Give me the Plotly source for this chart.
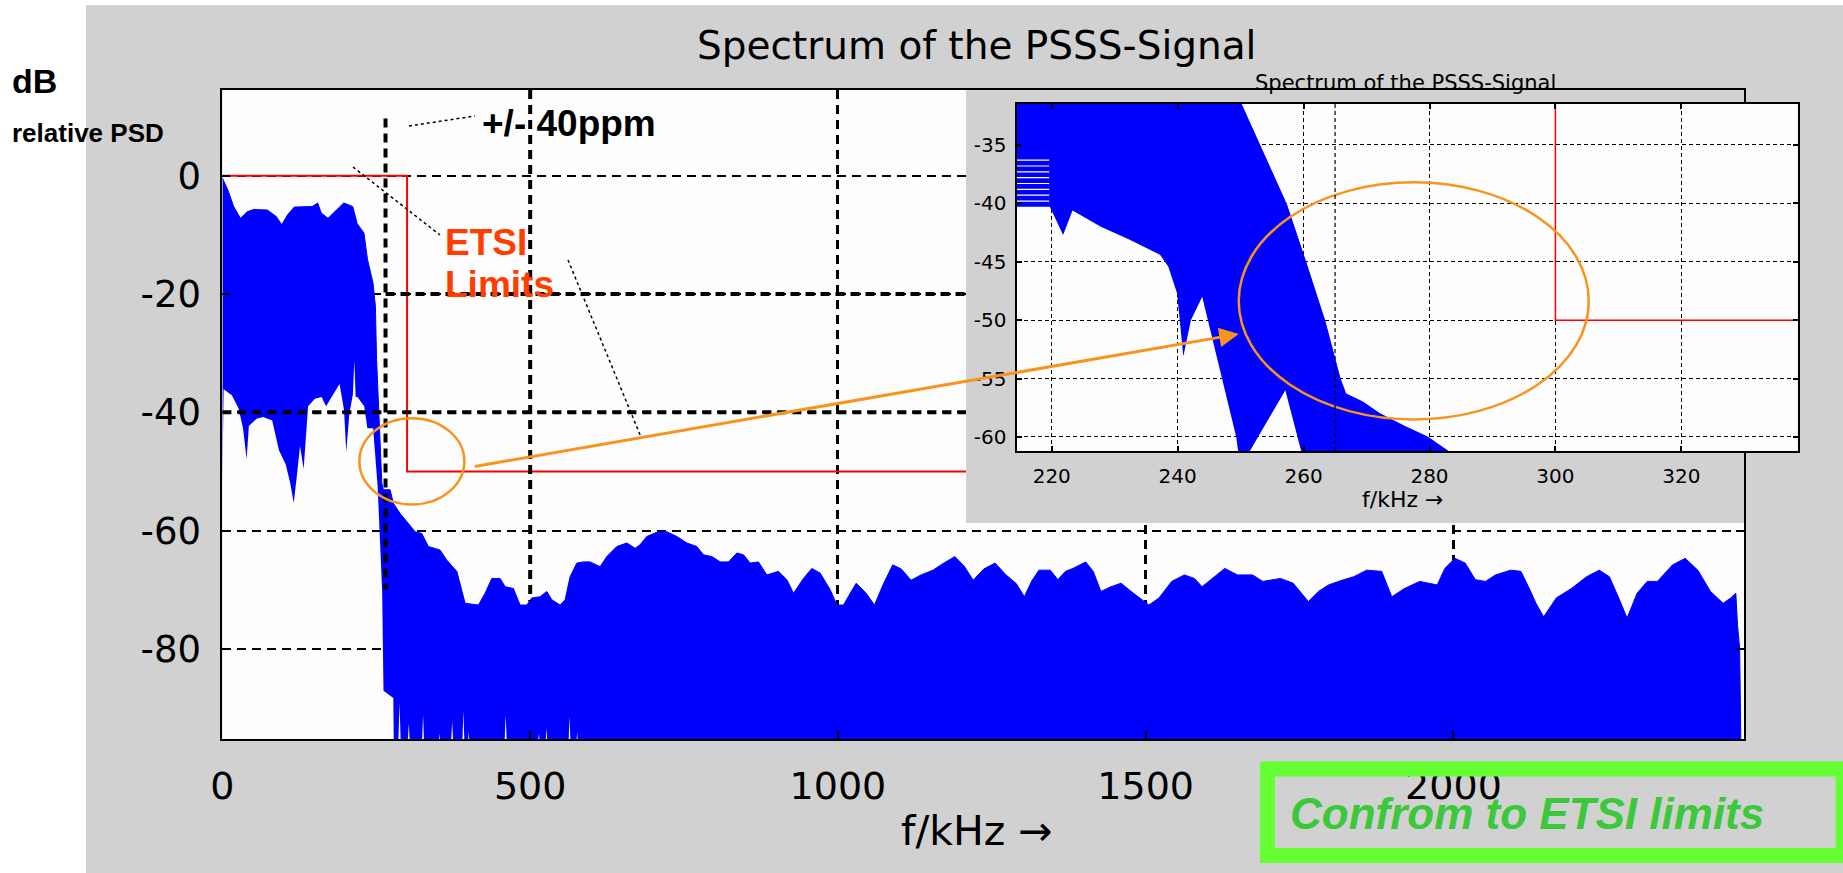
import plotly.graph_objects as go

W, H = 1843, 873
GRAY = "#D1D1D1"
BLUE = "#0000FF"
ORANGE = "#F7941E"

# ---------------- data ----------------
# upper envelope of the PSD band, main plot: (f / kHz, dB)
main_upper_points = [
    (0, -0.4), (8.8, -2.4), (18.3, -5.2), (29.2, -7.2), (40.2, -6.1), (51.1, -5.7), (73, -5.8),
    (87.6, -6.9), (96.4, -8.3), (105.9, -6.6), (116.8, -5.3), (146, -5.2), (154.8, -4.6),
    (160.6, -6.3), (171.6, -7.2), (182.5, -6.1), (197.1, -4.6), (211.7, -5.2), (219, -8.1),
    (230, -9.7), (235.8, -14.2), (244.6, -18.1), (248.5, -22), (250.5, -31), (253, -38),
    (256, -46), (259, -52), (261.5, -53.1), (272.4, -53.1), (277.8, -55.4), (288.6, -57.1),
    (302.2, -58.8), (313, -60.2), (323.9, -60.5), (334.7, -62.7), (353.6, -63.3), (364.5, -65.0),
    (380.8, -66.9), (388.9, -70.0), (394.3, -72.3), (415.9, -72.6), (426.8, -70.6), (437.6, -68.1),
    (451.1, -68.1), (459.3, -69.5), (472.8, -69.8), (483.6, -72.6), (494.5, -72.6), (502.6, -71.4),
    (516.1, -71.2), (527, -70.3), (535.1, -71.7), (548.7, -72.6), (556.8, -71.7), (564.9, -67.8),
    (575.8, -65.5), (586.5, -65.3), (597.4, -65.3), (613.6, -66.1), (624.5, -64.4), (640.8, -62.7),
    (657, -62.1), (670.5, -63.0), (678.6, -62.4), (689.5, -61.0), (705.8, -60.3), (722, -60.2),
    (738.3, -61.0), (754.5, -62.1), (770.8, -62.7), (781.6, -64.1), (795.2, -64.4), (808.7, -65.3),
    (822.2, -65.3), (835.8, -63.8), (846.6, -64.1), (857.4, -65.5), (870.9, -65.3), (884.5, -67.5),
    (903.4, -66.9), (917, -68.3), (927.8, -70.6), (944, -68.1), (957.6, -66.4), (971.2, -67.2),
    (987.4, -70.0), (998.3, -72.6), (1009, -72.6), (1020, -70.6), (1029.7, -68.9), (1045, -70.5),
    (1059.4, -72.6), (1074, -69), (1089.1, -65.8), (1103, -66.5), (1118.8, -68.4), (1135, -67.5),
    (1154.4, -66.7), (1172, -65.5), (1190, -64.4), (1205, -66), (1219.7, -68.4), (1237, -66.5),
    (1255.3, -65.5), (1273.1, -67.5), (1290, -69), (1302.8, -71.2), (1315, -68.5), (1326.6, -66.7),
    (1345, -66.7), (1357.3, -68.3), (1369.6, -66.9), (1382, -66.4), (1402.5, -65.3), (1414.8, -66.9),
    (1427.2, -70.3), (1443.6, -69.5), (1460, -68.9), (1476.4, -70.3), (1492.9, -71.7), (1505.2, -72.6),
    (1521.6, -71.4), (1542.2, -68.6), (1562.7, -67.5), (1579.2, -68.1), (1591.5, -69.5), (1608, -68.1),
    (1628.5, -66.4), (1649.1, -67.5), (1673.7, -67.5), (1690.2, -68.6), (1718.9, -68.1), (1739.5, -68.9),
    (1764.2, -72.0), (1780.6, -70.3), (1797, -69.2), (1821.8, -68.3), (1838.2, -67.8), (1858.8, -66.7),
    (1883.4, -66.9), (1899.8, -71.2), (1920.4, -69.8), (1945.1, -68.6), (1973.7, -69.2), (1986, -66.4),
    (2002.5, -64.7), (2019, -65.5), (2035.5, -68.3), (2051.9, -68.6), (2068.4, -67.5), (2093, -66.7),
    (2109.5, -66.9), (2121.8, -69.5), (2134.1, -72.3), (2146.5, -74.6), (2167, -71.4), (2191.6, -69.8),
    (2216.3, -67.8), (2236.8, -66.7), (2253.3, -67.8), (2269.7, -71.7), (2282, -74.8), (2298.4, -70.6),
    (2314.8, -68.6), (2331.3, -68.6), (2356, -65.8), (2376.5, -64.7), (2397, -66.7), (2417.6, -70.3),
    (2438.1, -72.3), (2450.5, -71.4), (2458.7, -70.6), (2461.5, -76), (2465, -80), (2467, -97),
]

# lower envelope of the PSD band, main plot
main_lower_points = [
    (0, -52), (2, -36.1), (15.3, -37.1), (26.2, -39.3), (33.5, -42.7), (39.4, -47.9),
    (43, -42.3), (55.4, -41.1), (66.3, -40.8), (80.9, -41.4), (91.9, -46.4),
    (102.8, -48.8), (110.1, -51.9), (115.9, -55.3), (121, -50.7), (126.1, -45.7),
    (132, -49.6), (139.2, -39.0), (150.2, -37.7), (161.1, -37.4), (168.4, -39.0),
    (179.3, -37.2), (190.3, -35.2), (197.6, -39.6), (201.2, -46.7), (206.3, -40.2),
    (212, -37), (214.3, -31.2), (216.5, -37.4), (219.4, -37.4), (230.4, -39.0),
    (235.5, -42.7), (244.9, -42.7), (252.2, -52.5), (255.9, -60.6), (259.5, -70.1),
    (261.7, -87.1), (277.7, -88.3), (278.5, -97), (285.5, -97), (287.8, -89.1),
    (290, -97), (300.5, -97), (302.8, -92.6), (305, -97), (324, -97), (326, -91.2),
    (328, -97), (350.5, -97), (352.5, -94.3), (354.5, -97), (371, -97), (373.2, -92.3),
    (375.5, -97), (389.5, -97), (391.5, -90.5), (393.5, -97), (398, -97),
    (399.8, -94.0), (401.5, -97), (458, -97), (460.2, -91.2), (462.5, -97),
    (512, -97), (514.2, -94.3), (516.5, -97), (524.5, -97), (526.5, -93.4),
    (528.5, -97), (562, -97), (563.9, -91.5), (566, -97), (574.5, -97),
    (576.3, -94.0), (578, -97), (2472, -97),
]

etsi_limit_khz = [0, 300, 300, 2472]
etsi_limit_db = [0, 0, -50, -50]
ppm_line_khz = 265

# zoomed inset: band edges
inset_upper_points = [(214, -30.5), (249.3, -30.5), (250.1, -31.5), (257.3, -40.1), (260.4, -45.1),
                      (263.4, -50.1), (265.8, -55.0), (266.7, -56.3), (269.4, -57.0), (272.1, -58.0),
                      (276.1, -59.1), (279.7, -60.0), (283.2, -61.3)]
inset_lower_points = [(214, -40.3), (219.7, -40.3), (221.8, -42.7), (223.3, -40.6), (227.8, -42.0),
                      (232.3, -43.1), (237.2, -44.4), (238.5, -45.4), (239.9, -47.7), (240.9, -53.1),
                      (242.1, -50.0), (243.9, -48.0), (244.8, -50.0), (247.1, -55.0), (249.3, -60.0),
                      (249.8, -62), (250.6, -62), (257.1, -56.0), (260.0, -62), (283.2, -62)]
# white gaps between the individual spectra at the left edge of the inset
inset_gap_levels_db = [-36.3, -36.8, -37.3, -37.8, -38.3, -38.8, -39.3, -39.8]
inset_gap_khz = [214.4, 219.6]

main_xticks = [0, 500, 1000, 1500, 2000]
main_yticks = [0, -20, -40, -60, -80]
inset_xticks = [220, 240, 260, 280, 300, 320]
inset_yticks = [-35, -40, -45, -50, -55, -60]
main_xrange = [0, 2472]
main_yrange = [-95.3, 14.5]
inset_xrange = [214.4, 338.5]
inset_yrange = [-61.2, -31.45]


def px(x):
    return x / W


def py(y):
    return 1 - y / H


def xs(points):
    return [p[0] for p in points]


def ys(points):
    return [p[1] for p in points]


fig = go.Figure()

# main spectrum band (lower envelope, then upper filled to it)
fig.add_trace(go.Scatter(x=xs(main_lower_points), y=ys(main_lower_points), mode="lines",
                         line=dict(width=0, color=BLUE), hoverinfo="skip", showlegend=False))
fig.add_trace(go.Scatter(x=xs(main_upper_points), y=ys(main_upper_points), mode="lines", fill="tonexty",
                         fillcolor=BLUE, line=dict(width=1, color=BLUE), hoverinfo="skip", showlegend=False))
fig.add_trace(go.Scatter(x=etsi_limit_khz, y=etsi_limit_db, mode="lines",
                         line=dict(width=2, color="#FF0000"), hoverinfo="skip", showlegend=False))

# gray panel of the inset figure covering the main plot
fig.add_trace(go.Scatter(x=[0, 1, 1, 0, 0], y=[0, 0, 1, 1, 0], mode="lines", fill="toself",
                         fillcolor=GRAY, line=dict(width=0, color=GRAY), xaxis="x2", yaxis="y2",
                         hoverinfo="skip", showlegend=False))

# inset
fig.add_trace(go.Scatter(x=xs(inset_lower_points), y=ys(inset_lower_points), mode="lines",
                         line=dict(width=0, color=BLUE), xaxis="x3", yaxis="y3",
                         hoverinfo="skip", showlegend=False))
fig.add_trace(go.Scatter(x=xs(inset_upper_points), y=ys(inset_upper_points), mode="lines", fill="tonexty",
                         fillcolor=BLUE, line=dict(width=1, color=BLUE), xaxis="x3", yaxis="y3",
                         hoverinfo="skip", showlegend=False))
gap_x, gap_y = [], []
for lev in inset_gap_levels_db:
    gap_x += [inset_gap_khz[0], inset_gap_khz[1], None]
    gap_y += [lev, lev, None]
fig.add_trace(go.Scatter(x=gap_x, y=gap_y, mode="lines", line=dict(width=1.2, color="white"),
                         xaxis="x3", yaxis="y3", hoverinfo="skip", showlegend=False))
fig.add_trace(go.Scatter(x=etsi_limit_khz, y=[v if v < 0 else -20 for v in etsi_limit_db], mode="lines",
                         line=dict(width=1.5, color="#FF0000"), xaxis="x3", yaxis="y3",
                         hoverinfo="skip", showlegend=False))

DASH = "9px,6px"
axis_common = dict(showline=True, linecolor="black", linewidth=2, mirror="ticks", ticks="inside",
                   tickcolor="black", tickwidth=1.5, zeroline=False, showgrid=True, gridcolor="black",
                   automargin=False)

fig.update_layout(
    width=W, height=H, autosize=False,
    margin=dict(l=0, r=0, t=0, b=0, pad=0, autoexpand=False),
    paper_bgcolor=GRAY, plot_bgcolor="#FDFDFD",
    showlegend=False,
    xaxis=dict(domain=[px(222.4), px(1744)], range=main_xrange, tickvals=main_xticks,
               ticktext=[str(v) for v in main_xticks], ticklen=8, gridwidth=2.5, griddash=DASH,
               tickfont=dict(family="DejaVu Sans", size=38, color="black"), ticklabelstandoff=12,
               **axis_common),
    yaxis=dict(domain=[py(739.3), py(90)], range=main_yrange, tickvals=main_yticks,
               ticktext=[str(v) for v in main_yticks], ticklen=8, gridwidth=2, griddash=DASH,
               tickfont=dict(family="DejaVu Sans", size=37, color="black"), ticklabelstandoff=12,
               **axis_common),
    xaxis2=dict(domain=[px(966), px(1744)], range=[0, 1], visible=False, anchor="y2", automargin=False),
    yaxis2=dict(domain=[py(523), py(90)], range=[0, 1], visible=False, anchor="x2", automargin=False),
    xaxis3=dict(domain=[px(1016.5), px(1797.8)], range=inset_xrange, tickvals=inset_xticks,
                ticktext=[str(v) for v in inset_xticks], ticklen=5, gridwidth=1.2, griddash="4px,3px",
                tickfont=dict(family="DejaVu Sans", size=20, color="black"), anchor="y3",
                ticklabelstandoff=6, **axis_common),
    yaxis3=dict(domain=[py(451), py(103.5)], range=inset_yrange, tickvals=inset_yticks,
                ticktext=[str(v) for v in inset_yticks], ticklen=5, gridwidth=1.2, griddash="4px,3px",
                tickfont=dict(family="DejaVu Sans", size=20, color="black"), anchor="x3",
                ticklabelstandoff=4, **axis_common),
)

shapes = [
    # white outside of the slide picture
    dict(type="rect", xref="paper", yref="paper", x0=0, x1=px(86), y0=0, y1=1,
         fillcolor="white", line=dict(width=0), layer="below"),
    dict(type="rect", xref="paper", yref="paper", x0=0, x1=1, y0=py(5), y1=1,
         fillcolor="white", line=dict(width=0), layer="below"),
    # emphasised dashed lines in the main plot
    dict(type="line", xref="x", yref="y", x0=0, x1=1208, y0=-40, y1=-40,
         line=dict(color="black", width=4, dash=DASH), layer="above"),
    dict(type="line", xref="x", yref="y", x0=ppm_line_khz, x1=1208, y0=-20, y1=-20,
         line=dict(color="black", width=4, dash=DASH), layer="above"),
    dict(type="line", xref="x", yref="y", x0=ppm_line_khz, x1=ppm_line_khz, y0=9.7, y1=-70,
         line=dict(color="black", width=4, dash=DASH), layer="above"),
    dict(type="line", xref="x", yref="y", x0=500, x1=500, y0=14.5, y1=-72,
         line=dict(color="black", width=4, dash=DASH), layer="above"),
    # dotted pointer lines
    dict(type="line", xref="paper", yref="paper", x0=px(409), y0=py(126), x1=px(475), y1=py(116),
         line=dict(color="black", width=1.5, dash="dot"), layer="above"),
    dict(type="line", xref="paper", yref="paper", x0=px(353), y0=py(167), x1=px(440), y1=py(235),
         line=dict(color="black", width=1.5, dash="dot"), layer="above"),
    dict(type="line", xref="paper", yref="paper", x0=px(568), y0=py(260), x1=px(641), y1=py(437),
         line=dict(color="black", width=1.5, dash="dot"), layer="above"),
    # orange ellipses
    dict(type="circle", xref="x", yref="y", x0=222.5, x1=393.1, y0=-55.6, y1=-41.0,
         line=dict(color=ORANGE, width=2.5), layer="above"),
    dict(type="circle", xref="x3", yref="y3", x0=249.7, x1=305.3, y0=-58.5, y1=-38.2,
         line=dict(color=ORANGE, width=2.5), layer="above"),
    # +/-40ppm line in the inset
    dict(type="line", xref="x3", yref="y3 domain", x0=ppm_line_khz, x1=ppm_line_khz, y0=0, y1=1,
         line=dict(color="black", width=1.2, dash="4px,3px"), layer="above"),
    # green box
    dict(type="rect", xref="paper", yref="paper", x0=px(1267.5), x1=px(1843), y0=py(855.5), y1=py(769),
         line=dict(color="#66FF33", width=15), fillcolor="rgba(0,0,0,0)", layer="above"),
]
fig.update_layout(shapes=shapes)

annotations = [
    dict(text="Spectrum of the PSSS-Signal", x=px(977), y=py(45), font=dict(family="DejaVu Sans", size=39)),
    dict(text="Spectrum of the PSSS-Signal", x=px(1405), y=py(83), font=dict(family="DejaVu Sans", size=21)),
    dict(text="f/kHz \u2192", x=px(977), y=py(831), font=dict(family="DejaVu Sans", size=41)),
    dict(text="f/kHz \u2192", x=px(1402), y=py(500), font=dict(family="DejaVu Sans", size=22)),
    dict(text="<b>dB</b>", x=px(10), y=py(81), xanchor="left", font=dict(family="Liberation Sans", size=34)),
    dict(text="<b>relative PSD</b>", x=px(10), y=py(133), xanchor="left",
         font=dict(family="Liberation Sans", size=26)),
    dict(text="<b>+/- 40ppm</b>", x=px(480), y=py(124), xanchor="left",
         font=dict(family="Liberation Sans", size=37)),
    dict(text="<b>ETSI</b>", x=px(443), y=py(242), xanchor="left",
         font=dict(family="Liberation Sans", size=37, color="#FF3D00")),
    dict(text="<b>Limits</b>", x=px(443), y=py(285), xanchor="left",
         font=dict(family="Liberation Sans", size=37, color="#FF3D00")),
    dict(text="<b><i>Confrom to ETSI limits</i></b>", x=px(1527), y=py(813),
         font=dict(family="Liberation Sans", size=44, color="#3BC83B")),
]
for a in annotations:
    a.setdefault("xref", "paper")
    a.setdefault("yref", "paper")
    a.setdefault("showarrow", False)
    a.setdefault("xanchor", "center")
    a.setdefault("yanchor", "middle")
    a["font"].setdefault("color", "black")

# orange arrow from the main-plot ellipse into the inset
annotations.append(dict(text="", xref="paper", yref="paper", x=px(1238.7), y=py(334),
                        ax=473.3 - 1238.7, ay=466.7 - 334, showarrow=True, arrowhead=2,
                        arrowsize=1.3, arrowwidth=3, arrowcolor=ORANGE, standoff=0))
fig.update_layout(annotations=annotations)

fig.write_html("out.html", config={"displayModeBar": False},
               post_script="document.body.style.margin='0';document.body.style.overflow='hidden';")
